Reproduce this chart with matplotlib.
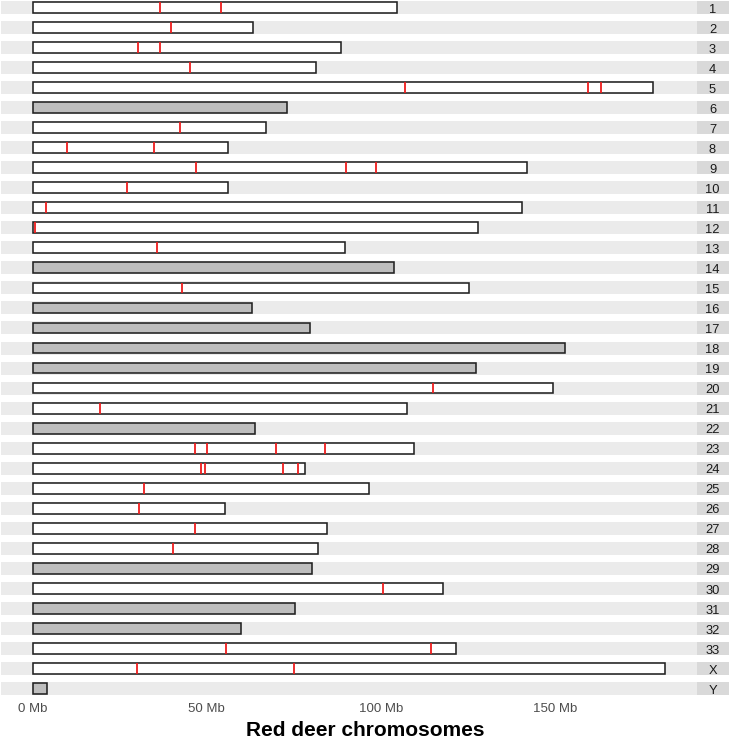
import matplotlib.pyplot as plt
from matplotlib.patches import Rectangle

plt.rcParams['font.family'] = ['Liberation Sans', 'DejaVu Sans']

# chromosome names and lengths (Mb)
chroms = [str(i) for i in range(1, 34)] + ['X', 'Y']
lengths = [104.6, 63.3, 88.5, 81.3, 178.1, 73.0, 67.0, 56.1, 141.9, 56.1,
           140.4, 127.8, 89.6, 103.7, 125.2, 63.0, 79.6, 152.8, 127.2, 149.3,
           107.4, 63.8, 109.5, 78.2, 96.5, 55.1, 84.5, 81.9, 80.2, 117.8,
           75.3, 59.8, 121.5, 181.4, 4.1]

# chromosomes drawn with grey fill
grey_chroms = ['6', '14', '16', '17', '18', '19', '22', '29', '31', '32', 'Y']

# red marks: chromosome and position (Mb)
mark_chrom = ['1', '1', '2', '3', '3', '4', '5', '5', '5', '7', '8', '8',
              '9', '9', '9', '10', '11', '12', '13', '15', '20', '21',
              '23', '23', '23', '23', '24', '24', '24', '24', '25', '26',
              '27', '28', '30', '33', '33', 'X', 'X']
mark_pos = [36.6, 54.1, 39.7, 30.3, 36.6, 45.2, 106.9, 159.4, 163.0, 42.3, 9.9, 34.9,
            46.9, 89.9, 98.5, 27.1, 4.0, 0.6, 35.7, 42.9, 114.9, 19.4,
            46.6, 50.1, 69.9, 83.8, 48.3, 49.4, 71.8, 76.1, 31.9, 30.6,
            46.6, 40.3, 100.5, 55.5, 114.3, 30.0, 75.0]

tick_vals = [0, 50, 100, 150]
tick_labels = ['0 Mb', '50 Mb', '100 Mb', '150 Mb']

W, H = 729, 738
fig = plt.figure(figsize=(W / 100, H / 100), dpi=100)

pad = 0.05 * max(lengths)
xlim = (-pad, max(lengths) + pad)

left, right, strip_w = 0.9, 696.6, 31.9
row_step, row_h = 20.03, 13.0

for i, name in enumerate(chroms):
    top = 1.0 + row_step * i
    rect = [left / W, 1 - (top + row_h) / H, (right - left) / W, row_h / H]
    ax = fig.add_axes(rect)
    ax.set_facecolor('#EBEBEB')
    ax.set_xlim(*xlim)
    ax.set_ylim(-0.1, 1.1)
    for s in ax.spines.values():
        s.set_visible(False)
    fc = '#BEBEBE' if name in grey_chroms else 'white'
    ax.add_patch(Rectangle((0, 0), lengths[i], 1, facecolor=fc,
                           edgecolor='#222222', linewidth=1.15, zorder=2))
    pos = [p for c, p in zip(mark_chrom, mark_pos) if c == name]
    if pos:
        ax.vlines(pos, 0, 1, color='#EE1C1C', linewidth=1.3, zorder=3)
    ax.set_yticks([])
    if i == len(chroms) - 1:
        ax.set_xticks(tick_vals)
        ax.set_xticklabels(tick_labels)
        ax.tick_params(axis='x', length=0, pad=5.8, labelsize=9.5,
                       labelcolor='#4D4D4D')
    else:
        ax.set_xticks([])

    sax = fig.add_axes([right / W, 1 - (top + row_h) / H, strip_w / W, row_h / H])
    sax.set_facecolor('#D9D9D9')
    sax.set_xticks([])
    sax.set_yticks([])
    for s in sax.spines.values():
        s.set_visible(False)
    sax.text(0.5, 0.45, name, ha='center', va='center_baseline', fontsize=9.3,
             color='#1A1A1A', transform=sax.transAxes)

fig.text(365.3 / W, 1 - 735.5 / H, 'Red deer chromosomes', ha='center',
         va='baseline', fontsize=15, fontweight='bold', color='black')

fig.savefig('out.png', dpi=100, facecolor='white')
